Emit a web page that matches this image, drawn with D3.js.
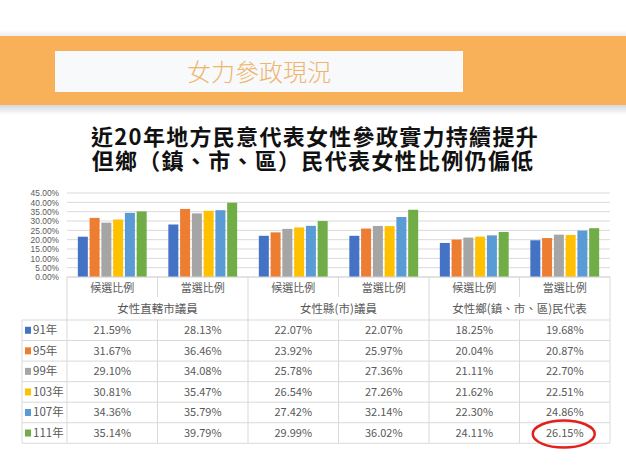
<!DOCTYPE html>
<html>
<head>
<meta charset="utf-8">
<script src="https://cdn.jsdelivr.net/npm/d3@7"></script>
<style>
  body { margin: 0; background: #fff; }
  svg { display: block; font-family: "Noto Sans CJK TC", "Noto Sans", sans-serif; }
</style>
</head>
<body>
<svg id="chart" width="626" height="470"></svg>
<script>
// --- DATOS ---
const years = ["91年", "95年", "99年", "103年", "107年", "111年"];
const groups = ["女性直轄市議員", "女性縣(市)議員", "女性鄉(鎮、市、區)民代表"];
const subs = ["候選比例", "當選比例"];
// one row per year, columns: group x sub
const y91 = [21.59, 28.13, 22.07, 22.07, 18.25, 19.68];
const y95 = [31.67, 36.46, 23.92, 25.97, 20.04, 20.87];
const y99 = [29.10, 34.08, 25.78, 27.36, 21.11, 22.70];
const y103 = [30.81, 35.47, 26.54, 27.26, 21.62, 22.51];
const y107 = [34.36, 35.79, 27.42, 32.14, 22.30, 24.86];
const y111 = [35.14, 39.79, 29.99, 36.02, 24.11, 26.15];
const yTicks = [0, 5, 10, 15, 20, 25, 30, 35, 40, 45];
const titleLines = ["近20年地方民意代表女性參政實力持續提升", "但鄉（鎮、市、區）民代表女性比例仍偏低"];
const colors = ["#4472C4", "#ED7D31", "#A5A5A5", "#FFC000", "#5B9BD5", "#70AD47"];

const rows = [y91, y95, y99, y103, y107, y111];
const cats = [];
groups.forEach(g => subs.forEach(s => cats.push({ group: g, sub: s, key: g + "|" + s })));

const svg = d3.select("#chart");

// --- ENCABEZADO ---
const defs = svg.append("defs");
const grad = defs.append("linearGradient").attr("id", "sombra").attr("x1", 0).attr("x2", 0).attr("y1", 0).attr("y2", 1);
grad.append("stop").attr("offset", "0%").attr("stop-color", "#d6d8dc");
grad.append("stop").attr("offset", "100%").attr("stop-color", "#ffffff");
const grad2 = defs.append("linearGradient").attr("id", "sombra2").attr("x1", 0).attr("x2", 0).attr("y1", 1).attr("y2", 0);
grad2.append("stop").attr("offset", "0%").attr("stop-color", "#eceef1");
grad2.append("stop").attr("offset", "100%").attr("stop-color", "#ffffff");

svg.append("rect").attr("x", 0).attr("y", 30).attr("width", 626).attr("height", 6).attr("fill", "url(#sombra2)");
svg.append("rect").attr("x", 0).attr("y", 105).attr("width", 626).attr("height", 10).attr("fill", "url(#sombra)");
svg.append("rect").attr("x", 0).attr("y", 36).attr("width", 626).attr("height", 69).attr("fill", "#F8B159");
svg.append("rect").attr("x", 55).attr("y", 51).attr("width", 408).attr("height", 41).attr("fill", "#F8F9FB");
svg.append("text")
  .attr("x", 259).attr("y", 81)
  .attr("text-anchor", "middle")
  .attr("font-size", 24).attr("font-weight", 300)
  .attr("fill", "#EEB56C")
  .text("女力參政現況");

// two-line title in one text element
const titulo = svg.append("text")
  .attr("text-anchor", "middle")
  .attr("font-size", 22).attr("font-weight", "bold")
  .attr("letter-spacing", 1.3)
  .attr("fill", "#111");
titulo.selectAll("tspan")
  .data(titleLines)
  .enter().append("tspan")
  .attr("x", (d, i) => i === 0 ? 315 : 313)
  .attr("y", (d, i) => 145 + i * 24)
  .text(d => d);

// --- ESCALAS ---
const plotLeft = 67, plotRight = 610, plotTop = 193, plotBottom = 277;
const x = d3.scaleBand().domain(cats.map(c => c.key)).range([plotLeft, plotRight]);
const xYear = d3.scaleBand().domain(years).range([0, x.bandwidth()]).paddingInner(0.15).paddingOuter(0.92);
const y = d3.scaleLinear().domain([0, 45]).range([plotBottom, plotTop]);

// --- CUADRICULA ---
svg.append("g")
  .selectAll("line")
  .data(yTicks)
  .enter().append("line")
  .attr("x1", plotLeft).attr("x2", plotRight)
  .attr("y1", d => y(d)).attr("y2", d => y(d))
  .attr("stroke", "#d9d9d9").attr("stroke-width", 1);

const yAxis = svg.append("g")
  .attr("transform", `translate(${plotLeft - 8},0)`)
  .call(d3.axisLeft(y).tickValues(yTicks).tickSize(0).tickPadding(0).tickFormat(d => d.toFixed(2) + "%"));
yAxis.select(".domain").remove();
yAxis.selectAll("text")
  .attr("font-size", 8.4)
  .attr("fill", "#595959")
  .attr("font-family", "Liberation Sans, sans-serif");

// --- BARRAS ---
const barData = [];
rows.forEach((r, i) => r.forEach((v, j) => barData.push({ year: years[i], cat: cats[j].key, v, i })));
svg.append("g")
  .selectAll("rect")
  .data(barData)
  .enter().append("rect")
  .attr("x", d => x(d.cat) + xYear(d.year))
  .attr("width", xYear.bandwidth())
  .attr("y", d => y(d.v))
  .attr("height", d => y(0) - y(d.v))
  .attr("fill", d => colors[d.i]);

// --- TABLA DE DATOS ---
const rowTop = 320, rowH = 20.55, subRowBottom = 297;
const tableLeft = 22;
const lineColor = "#d9d9d9";
const tabla = svg.append("g").attr("stroke", lineColor).attr("stroke-width", 1);

tabla.append("line").attr("x1", plotLeft).attr("x2", plotRight).attr("y1", plotBottom).attr("y2", plotBottom);
d3.range(years.length + 1).forEach(i => {
  tabla.append("line")
    .attr("x1", tableLeft).attr("x2", plotRight)
    .attr("y1", rowTop + i * rowH).attr("y2", rowTop + i * rowH);
});
const tableBottom = rowTop + years.length * rowH;
tabla.append("line").attr("x1", tableLeft).attr("x2", tableLeft).attr("y1", rowTop).attr("y2", tableBottom);
cats.forEach((c, j) => {
  const xx = x(c.key) + x.bandwidth();
  if (j % 2 === 1) {
    tabla.append("line").attr("x1", xx).attr("x2", xx).attr("y1", plotBottom).attr("y2", tableBottom);
  } else {
    tabla.append("line").attr("x1", xx).attr("x2", xx).attr("y1", plotBottom).attr("y2", subRowBottom);
    tabla.append("line").attr("x1", xx).attr("x2", xx).attr("y1", rowTop).attr("y2", tableBottom);
  }
});
tabla.append("line").attr("x1", plotLeft).attr("x2", plotLeft).attr("y1", plotBottom).attr("y2", tableBottom);

// etiquetas de categoría
svg.append("g")
  .selectAll("text")
  .data(cats)
  .enter().append("text")
  .attr("x", d => x(d.key) + x.bandwidth() / 2)
  .attr("y", 292)
  .attr("text-anchor", "middle")
  .attr("font-size", 11)
  .attr("fill", "#595959")
  .text(d => d.sub);

svg.append("g")
  .selectAll("text")
  .data(groups)
  .enter().append("text")
  .attr("x", (d, i) => x(cats[i * 2].key) + x.bandwidth())
  .attr("y", 313)
  .attr("text-anchor", "middle")
  .attr("font-size", 11.5)
  .attr("fill", "#595959")
  .text(d => d);

// leyenda + valores
const filas = svg.append("g");
rows.forEach((r, i) => {
  const cy = rowTop + i * rowH + rowH / 2;
  filas.append("rect")
    .attr("x", 25).attr("y", cy - 3.5).attr("width", 6).attr("height", 7)
    .attr("fill", colors[i]);
  filas.append("text")
    .attr("x", 33).attr("y", cy + 4)
    .attr("font-size", 11.5)
    .attr("fill", "#595959")
    .text(years[i]);
  r.forEach((v, j) => {
    filas.append("text")
      .attr("x", x(cats[j].key) + x.bandwidth() / 2)
      .attr("y", cy + 4)
      .attr("text-anchor", "middle")
      .attr("font-size", 11)
      .attr("fill", "#595959")
      .text(v.toFixed(2) + "%");
  });
});

// --- CIRCULO ROJO ---
svg.append("ellipse")
  .attr("cx", x(cats[5].key) + x.bandwidth() / 2 - 1)
  .attr("cy", rowTop + 5 * rowH + rowH / 2 + 1)
  .attr("rx", 31).attr("ry", 13.5)
  .attr("fill", "none")
  .attr("stroke", "#E3211C")
  .attr("stroke-width", 2.5);
</script>
</body>
</html>
